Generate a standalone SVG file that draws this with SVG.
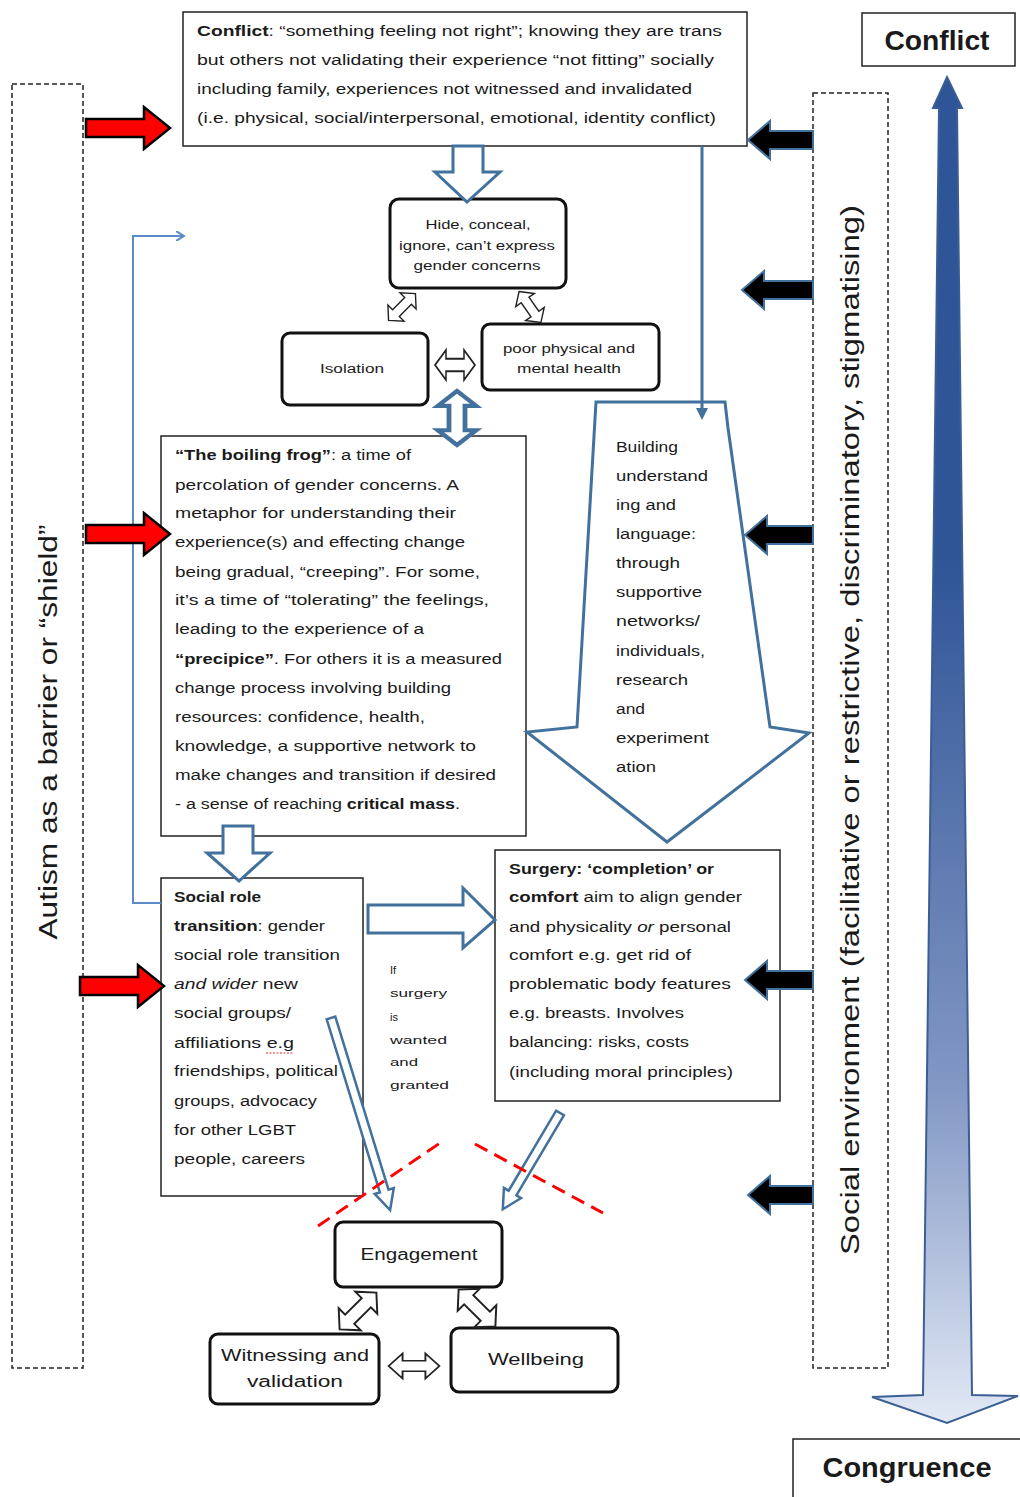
<svg xmlns="http://www.w3.org/2000/svg" width="1020" height="1497" viewBox="0 0 1020 1497">
<defs>
<linearGradient id="grad" x1="0" y1="77" x2="0" y2="1423" gradientUnits="userSpaceOnUse">
<stop offset="0" stop-color="#2E5597"/>
<stop offset="0.36" stop-color="#2F5597"/>
<stop offset="0.75" stop-color="#8297C4"/>
<stop offset="1" stop-color="#E2E9F5"/>
</linearGradient>
<path id="dbl" d="M-20,0 L-9,-12 L-9,-5 L9,-5 L9,-12 L20,0 L9,12 L9,5 L-9,5 L-9,12 Z"/>
<path id="red" d="M0,-9 L58,-9 L58,-21 L84,0 L58,21 L58,9 L0,9 Z"/>
<marker id="blueHead" markerWidth="10" markerHeight="10" refX="8" refY="5" orient="auto" markerUnits="userSpaceOnUse">
<path d="M0,0 L8,5 L0,10" fill="none" stroke="#5B8CC8" stroke-width="2"/>
</marker>
<marker id="solidHead" markerWidth="12" markerHeight="12" refX="6" refY="6" orient="auto" markerUnits="userSpaceOnUse">
<path d="M0,0 L12,6 L0,12 Z" fill="#41719C"/>
</marker>
</defs>
<style>
text{font-family:"Liberation Sans",Arial,sans-serif;fill:#1a1a1a}
.t14{font-size:14px}
.t12{font-size:12px}
.t11{font-size:11px}
.t16{font-size:16px}
.b{font-weight:bold}
.i{font-style:italic}
.box{fill:#fff;stroke:#222;stroke-width:1.5}
.rbox{fill:#fff;stroke:#111;stroke-width:3}
.dash{fill:none;stroke:#222;stroke-width:1.5;stroke-dasharray:5,3}
.hollow{fill:#fff;stroke:#41719C;stroke-width:3;stroke-linejoin:miter}
.dblk{fill:#fff;stroke:#222;stroke-width:1.5}
.redarr{fill:#FF0000;stroke:#000;stroke-width:2.5}
.blk{fill:#000;stroke:#41719C;stroke-width:2}
.rdash{fill:none;stroke:#FF0000;stroke-width:3;stroke-dasharray:14,8}
</style>

<!-- side frames -->
<g id="autism-frame">
<rect class="dash" x="12" y="84" width="71" height="1284"/>
<text transform="translate(57,732) rotate(-90)" text-anchor="middle" style="font-size:25px" textLength="415" lengthAdjust="spacingAndGlyphs">Autism as a barrier or “shield”</text>
</g>
<g id="social-frame">
<rect class="dash" x="813" y="93" width="75" height="1275"/>
<text transform="translate(859,730) rotate(-90)" text-anchor="middle" style="font-size:25px" textLength="1050" lengthAdjust="spacingAndGlyphs">Social environment (facilitative or restrictive, discriminatory, stigmatising)</text>
</g>

<!-- Conflict / Congruence scale -->
<g id="scale-arrow">
<path d="M947,77 L962,108 L957,108 L972,1395 L1018,1396 L947,1423 L872,1397 L923,1395 L939,108 L933,108 Z" fill="url(#grad)" stroke="#3B5F94" stroke-width="2"/>
</g>
<g id="conflict-label">
<rect class="box" x="862" y="13" width="153" height="53"/>
<text x="937" y="50" text-anchor="middle" class="b" style="font-size:28px" textLength="105" lengthAdjust="spacingAndGlyphs">Conflict</text>
</g>
<g id="congruence-label">
<rect class="box" x="793" y="1439" width="240" height="70"/>
<text x="907" y="1477" text-anchor="middle" class="b" style="font-size:28px" textLength="169" lengthAdjust="spacingAndGlyphs">Congruence</text>
</g>

<!-- nodes -->
<g id="conflict-box">
<rect class="box" x="183" y="12" width="564" height="134"/>
<text class="t14" x="197" y="36" textLength="525" lengthAdjust="spacingAndGlyphs"><tspan class="b">Conflict</tspan>: “something feeling not right”; knowing they are trans</text>
<text class="t14" x="197" y="65" textLength="517" lengthAdjust="spacingAndGlyphs">but others not validating their experience “not fitting” socially</text>
<text class="t14" x="197" y="94" textLength="495" lengthAdjust="spacingAndGlyphs">including family, experiences not witnessed and invalidated</text>
<text class="t14" x="197" y="123" textLength="519" lengthAdjust="spacingAndGlyphs">(i.e. physical, social/interpersonal, emotional, identity conflict)</text>
</g>

<g id="hide-box">
<rect class="rbox" x="390" y="199" width="176" height="89" rx="9"/>
<text class="t12" x="478" y="229" text-anchor="middle" textLength="105" lengthAdjust="spacingAndGlyphs">Hide, conceal,</text>
<text class="t12" x="477" y="250" text-anchor="middle" textLength="156" lengthAdjust="spacingAndGlyphs">ignore, can’t express</text>
<text class="t12" x="477" y="270" text-anchor="middle" textLength="127" lengthAdjust="spacingAndGlyphs">gender concerns</text>
</g>

<g id="isolation-box">
<rect class="rbox" x="282" y="333" width="146" height="72" rx="8"/>
<text class="t12" x="352" y="373" text-anchor="middle" textLength="64" lengthAdjust="spacingAndGlyphs">Isolation</text>
</g>

<g id="health-box">
<rect class="rbox" x="482" y="324" width="177" height="66" rx="8"/>
<text class="t12" x="569" y="353" text-anchor="middle" textLength="132" lengthAdjust="spacingAndGlyphs">poor physical and</text>
<text class="t12" x="569" y="373" text-anchor="middle" textLength="104" lengthAdjust="spacingAndGlyphs">mental health</text>
</g>

<g id="boiling-frog-box">
<rect class="box" x="161" y="436" width="365" height="400"/>
<text class="t14" x="175" y="460" textLength="236" lengthAdjust="spacingAndGlyphs"><tspan class="b">“The boiling frog”</tspan>: a time of</text>
<text class="t14" x="175" y="490" textLength="284" lengthAdjust="spacingAndGlyphs">percolation of gender concerns. A</text>
<text class="t14" x="175" y="518" textLength="281" lengthAdjust="spacingAndGlyphs">metaphor for understanding their</text>
<text class="t14" x="175" y="547" textLength="290" lengthAdjust="spacingAndGlyphs">experience(s) and effecting change</text>
<text class="t14" x="175" y="577" textLength="305" lengthAdjust="spacingAndGlyphs">being gradual, “creeping”. For some,</text>
<text class="t14" x="175" y="605" textLength="314" lengthAdjust="spacingAndGlyphs">it’s a time of “tolerating” the feelings,</text>
<text class="t14" x="175" y="634" textLength="249" lengthAdjust="spacingAndGlyphs">leading to the experience of a</text>
<text class="t14" x="175" y="664" textLength="327" lengthAdjust="spacingAndGlyphs"><tspan class="b">“precipice”</tspan>. For others it is a measured</text>
<text class="t14" x="175" y="693" textLength="276" lengthAdjust="spacingAndGlyphs">change process involving building</text>
<text class="t14" x="175" y="722" textLength="250" lengthAdjust="spacingAndGlyphs">resources: confidence, health,</text>
<text class="t14" x="175" y="751" textLength="301" lengthAdjust="spacingAndGlyphs">knowledge, a supportive network to</text>
<text class="t14" x="175" y="780" textLength="321" lengthAdjust="spacingAndGlyphs">make changes and transition if desired</text>
<text class="t14" x="175" y="809" textLength="285" lengthAdjust="spacingAndGlyphs">- a sense of reaching <tspan class="b">critical mass</tspan>.</text>
</g>

<g id="building-understanding">
<path class="hollow" d="M596,402 L725,402 L728,428 L770,727 L809,733 L667,842 L527,732 L577,727 Z"/>
<text class="t14" x="616" y="452" textLength="62" lengthAdjust="spacingAndGlyphs">Building</text>
<text class="t14" x="616" y="481" textLength="92" lengthAdjust="spacingAndGlyphs">understand</text>
<text class="t14" x="616" y="510" textLength="60" lengthAdjust="spacingAndGlyphs">ing and</text>
<text class="t14" x="616" y="539" textLength="80" lengthAdjust="spacingAndGlyphs">language:</text>
<text class="t14" x="616" y="568" textLength="64" lengthAdjust="spacingAndGlyphs">through</text>
<text class="t14" x="616" y="597" textLength="86" lengthAdjust="spacingAndGlyphs">supportive</text>
<text class="t14" x="616" y="626" textLength="84" lengthAdjust="spacingAndGlyphs">networks/</text>
<text class="t14" x="616" y="656" textLength="89" lengthAdjust="spacingAndGlyphs">individuals,</text>
<text class="t14" x="616" y="685" textLength="72" lengthAdjust="spacingAndGlyphs">research</text>
<text class="t14" x="616" y="714" textLength="29" lengthAdjust="spacingAndGlyphs">and</text>
<text class="t14" x="616" y="743" textLength="93" lengthAdjust="spacingAndGlyphs">experiment</text>
<text class="t14" x="616" y="772" textLength="40" lengthAdjust="spacingAndGlyphs">ation</text>
</g>

<g id="social-role-box">
<rect class="box" x="161" y="878" width="202" height="318"/>
<text class="t14" x="174" y="902" textLength="87" lengthAdjust="spacingAndGlyphs"><tspan class="b">Social role</tspan></text>
<text class="t14" x="174" y="931" textLength="151" lengthAdjust="spacingAndGlyphs"><tspan class="b">transition</tspan>: gender</text>
<text class="t14" x="174" y="960" textLength="166" lengthAdjust="spacingAndGlyphs">social role transition</text>
<text class="t14" x="174" y="989" textLength="124" lengthAdjust="spacingAndGlyphs"><tspan class="i">and wider</tspan> new</text>
<text class="t14" x="174" y="1018" textLength="117" lengthAdjust="spacingAndGlyphs">social groups/</text>
<text class="t14" x="174" y="1048" textLength="120" lengthAdjust="spacingAndGlyphs">affiliations e.g</text>
<line x1="266" y1="1053" x2="294" y2="1053" stroke="#E03030" stroke-width="1" stroke-dasharray="2,1.5"/>
<text class="t14" x="174" y="1076" textLength="164" lengthAdjust="spacingAndGlyphs">friendships, political</text>
<text class="t14" x="174" y="1106" textLength="143" lengthAdjust="spacingAndGlyphs">groups, advocacy</text>
<text class="t14" x="174" y="1135" textLength="122" lengthAdjust="spacingAndGlyphs">for other LGBT</text>
<text class="t14" x="174" y="1164" textLength="131" lengthAdjust="spacingAndGlyphs">people, careers</text>
</g>

<g id="if-surgery-label">
<text class="t11" x="390" y="974">If</text>
<text class="t11" x="390" y="997" textLength="57" lengthAdjust="spacingAndGlyphs">surgery</text>
<text class="t11" x="390" y="1021">is</text>
<text class="t11" x="390" y="1044" textLength="57" lengthAdjust="spacingAndGlyphs">wanted</text>
<text class="t11" x="390" y="1066" textLength="28" lengthAdjust="spacingAndGlyphs">and</text>
<text class="t11" x="390" y="1089" textLength="59" lengthAdjust="spacingAndGlyphs">granted</text>
</g>

<g id="surgery-box">
<rect class="box" x="495" y="850" width="285" height="251"/>
<text class="t14" x="509" y="874" textLength="205" lengthAdjust="spacingAndGlyphs"><tspan class="b">Surgery: ‘completion’ or</tspan></text>
<text class="t14" x="509" y="902" textLength="233" lengthAdjust="spacingAndGlyphs"><tspan class="b">comfort</tspan> aim to align gender</text>
<text class="t14" x="509" y="932" textLength="222" lengthAdjust="spacingAndGlyphs">and physicality <tspan class="i">or</tspan> personal</text>
<text class="t14" x="509" y="960" textLength="182" lengthAdjust="spacingAndGlyphs">comfort e.g. get rid of</text>
<text class="t14" x="509" y="989" textLength="222" lengthAdjust="spacingAndGlyphs">problematic body features</text>
<text class="t14" x="509" y="1018" textLength="175" lengthAdjust="spacingAndGlyphs">e.g. breasts. Involves</text>
<text class="t14" x="509" y="1047" textLength="180" lengthAdjust="spacingAndGlyphs">balancing: risks, costs</text>
<text class="t14" x="509" y="1077" textLength="224" lengthAdjust="spacingAndGlyphs">(including moral principles)</text>
</g>

<g id="engagement-box">
<rect class="rbox" x="335" y="1222" width="167" height="65" rx="8"/>
<text class="t16" x="419" y="1260" text-anchor="middle" textLength="117" lengthAdjust="spacingAndGlyphs">Engagement</text>
</g>

<g id="witnessing-box">
<rect class="rbox" x="210" y="1334" width="169" height="70" rx="8"/>
<text class="t16" x="295" y="1361" text-anchor="middle" textLength="148" lengthAdjust="spacingAndGlyphs">Witnessing and</text>
<text class="t16" x="295" y="1387" text-anchor="middle" textLength="96" lengthAdjust="spacingAndGlyphs">validation</text>
</g>

<g id="wellbeing-box">
<rect class="rbox" x="451" y="1328" width="167" height="64" rx="8"/>
<text class="t16" x="536" y="1365" text-anchor="middle" textLength="96" lengthAdjust="spacingAndGlyphs">Wellbeing</text>
</g>

<!-- connectors -->
<g id="connectors">
<!-- hollow arrows -->
<path class="hollow" d="M453,146 L483,146 L483,172 L500,172 L467,202 L435,172 L453,172 Z"/>
<path class="hollow" d="M223,826 L253,826 L253,853 L270,853 L239,881 L207,853 L223,853 Z"/>
<path class="hollow" d="M368,905 L463,905 L463,888 L495,920 L463,948 L463,933 L368,933 Z"/>
<path class="hollow" style="stroke-width:2.5" transform="translate(331,1018) rotate(72.9)" d="M0,-4.5 L181,-4.5 L181,-10 L201,0 L181,10 L181,4.5 L0,4.5 Z"/>
<path class="hollow" style="stroke-width:2.5" transform="translate(560,1113) rotate(120.7)" d="M0,-4.5 L93,-4.5 L93,-10 L112,0 L93,10 L93,4.5 L0,4.5 Z"/>
<!-- blue line from conflict box -->
<line x1="702" y1="146" x2="702" y2="414" stroke="#41719C" stroke-width="3" marker-end="url(#solidHead)"/>
<!-- blue feedback connector -->
<path d="M161,903 L133,903 L133,236 L184,236" fill="none" stroke="#5B8CC8" stroke-width="2" marker-end="url(#blueHead)"/>
<!-- double arrows -->
<use href="#dbl" class="dblk" transform="translate(402,307) rotate(-45) scale(0.95)"/>
<use href="#dbl" class="dblk" transform="translate(530,307) rotate(55) scale(0.95)"/>
<use href="#dbl" class="dblk" transform="translate(455,365) scale(1,1.25)"/>
<use href="#dbl" fill="#fff" stroke="#41719C" stroke-width="3" transform="translate(457,418) rotate(90) scale(1.35,1.6)"/>
<use href="#dbl" class="dblk" transform="translate(358,1311) rotate(-45) scale(1.3)"/>
<use href="#dbl" class="dblk" transform="translate(477,1308) rotate(45) scale(1.3)"/>
<use href="#dbl" class="dblk" transform="translate(414,1366) scale(1.27,1.05)"/>
<!-- red autism arrows -->
<use href="#red" class="redarr" transform="translate(86,128)"/>
<use href="#red" class="redarr" transform="translate(86,534)"/>
<use href="#red" class="redarr" transform="translate(80,986)"/>
<!-- black social environment arrows -->
<path class="blk" d="M748,140 L770,121 L770,131 L813,131 L813,149 L770,149 L770,159 Z"/>
<path class="blk" d="M742,290 L764,271 L764,281 L813,281 L813,299 L764,299 L764,309 Z"/>
<path class="blk" d="M745,535 L767,516 L767,526 L813,526 L813,544 L767,544 L767,554 Z"/>
<path class="blk" d="M745,980 L767,961 L767,971 L813,971 L813,989 L767,989 L767,999 Z"/>
<path class="blk" d="M748,1195 L770,1176 L770,1186 L813,1186 L813,1204 L770,1204 L770,1214 Z"/>
<!-- red dashed boundary -->
<line class="rdash" x1="318" y1="1226" x2="440" y2="1143"/>
<line class="rdash" x1="475" y1="1144" x2="603" y2="1213"/>
</g>
</svg>
